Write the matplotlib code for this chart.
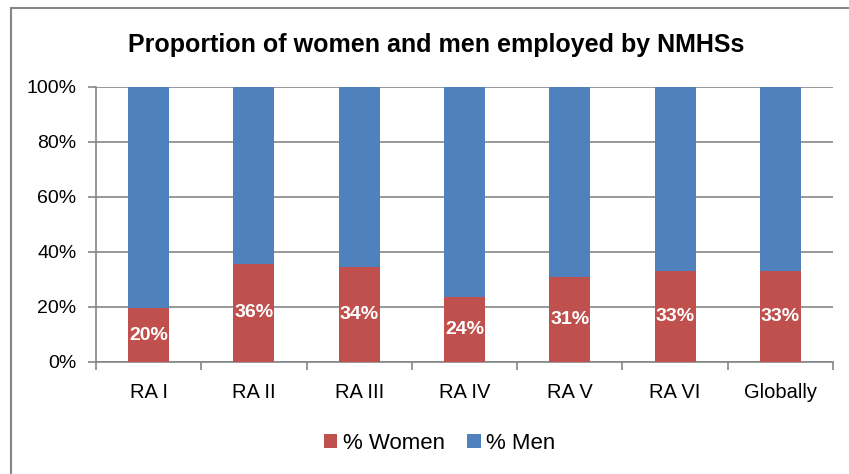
import matplotlib.pyplot as plt
from matplotlib import font_manager
from matplotlib.patches import Rectangle

# data
regions = ['RA I', 'RA II', 'RA III', 'RA IV', 'RA V', 'RA VI', 'Globally']
women = [19.5, 35.7, 34.4, 23.8, 30.8, 33.2, 33.2]
women_labels = ['20%', '36%', '34%', '24%', '31%', '33%', '33%']
men = [100 - w for w in women]

red = '#C0504D'
blue = '#4F81BD'
grey = '#868686'

plt.rcParams['font.family'] = ['Liberation Sans', 'DejaVu Sans']

names = {f.name for f in font_manager.fontManager.ttflist}
if 'Liberation Sans Narrow' in names:
    label_font = ['Liberation Sans Narrow', 'Liberation Sans']
    label_size = 15
else:
    label_font = ['Liberation Sans', 'DejaVu Sans']
    label_size = 14

fig = plt.figure(figsize=(8.49, 4.74), dpi=100)
ax = fig.add_axes([0.1131, 0.2363, 0.8681, 0.5802])

x = list(range(len(regions)))
ax.bar(x, women, width=0.39, color=red, label='% Women', zorder=3)
ax.bar(x, men, width=0.39, bottom=women, color=blue, label='% Men', zorder=3)

for xi, w, lab in zip(x, women, women_labels):
    ax.text(xi, w / 2, lab, ha='center', va='center', color='white',
            fontweight='bold', fontsize=label_size, family=label_font, zorder=4)

ax.set_xlim(-0.5, len(regions) - 0.5)
ax.set_ylim(0, 100)
ax.set_yticks(range(0, 101, 20))
ax.set_yticklabels([f'{v}%' for v in range(0, 101, 20)])
ax.yaxis.grid(True, color=grey, linewidth=1.2, zorder=0)

ax.set_xticks(x)
ax.set_xticklabels(regions)
ax.set_xticks([i - 0.5 for i in range(len(regions) + 1)], minor=True)
ax.tick_params(axis='x', which='major', length=0, pad=15, labelsize=14.5)
ax.tick_params(axis='x', which='minor', length=6, width=1.2, color=grey)
ax.tick_params(axis='y', length=6, width=1.2, color=grey, pad=8, labelsize=14)

for side in ['top', 'right']:
    ax.spines[side].set_visible(False)
for side in ['left', 'bottom']:
    ax.spines[side].set_color(grey)
    ax.spines[side].set_linewidth(1.2)

fig.text(0.514, 0.905, 'Proportion of women and men employed by NMHSs',
         ha='center', va='center', fontsize=18, fontweight='bold')

fig.legend(loc='center', bbox_to_anchor=(0.518, 0.065), ncol=2, frameon=False,
           fontsize=16, handlelength=0.6, handleheight=0.6,
           handletextpad=0.25, columnspacing=1.0)

# outer chart border, cut off at right and bottom like the source
fig.patches.append(Rectangle((11 / 849, -0.2), 1.2, 0.2 + (474 - 8) / 474,
                             transform=fig.transFigure, fill=False,
                             edgecolor=grey, linewidth=1.5))

plt.savefig('out.png', dpi=100)
